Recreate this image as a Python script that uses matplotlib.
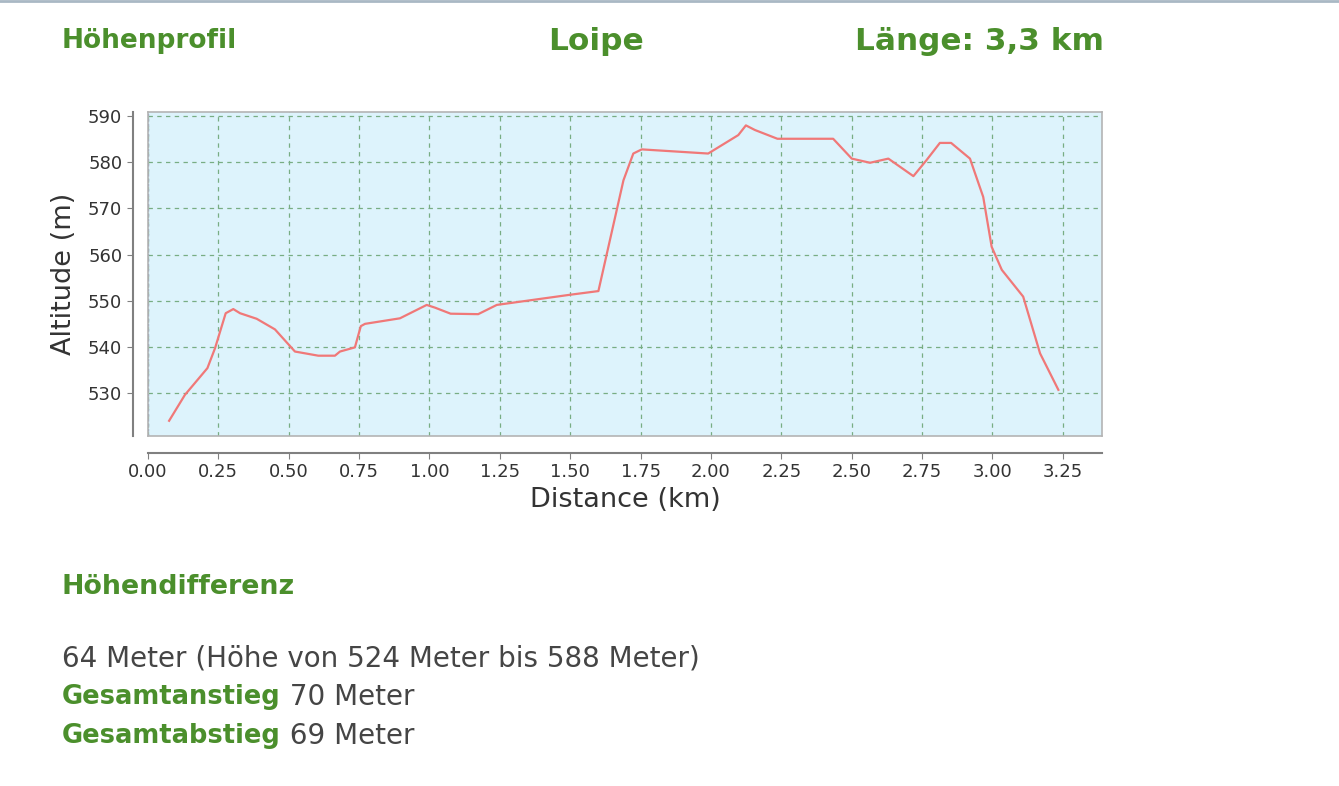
import numpy as np
import matplotlib.pyplot as plt
from matplotlib.lines import Line2D

# elevation profile
distance_km = [0.075, 0.131, 0.211, 0.238, 0.276, 0.303, 0.327, 0.386, 0.451, 0.522,
               0.605, 0.664, 0.682, 0.735, 0.756, 0.771, 0.895, 0.990, 1.020, 1.075,
               1.173, 1.239, 1.499, 1.600, 1.689, 1.724, 1.754, 1.990, 2.097, 2.124,
               2.156, 2.236, 2.434, 2.500, 2.565, 2.630, 2.719, 2.766, 2.813, 2.853,
               2.920, 2.967, 2.997, 3.033, 3.109, 3.169, 3.234]
altitude_m = [524.0, 529.6, 535.4, 539.7, 547.3, 548.2, 547.3, 546.1, 543.8, 539.0,
              538.1, 538.1, 539.0, 539.9, 544.5, 545.0, 546.2, 549.1, 548.5, 547.2,
              547.1, 549.1, 551.3, 552.1, 576.1, 581.9, 582.8, 581.9, 585.9, 588.0,
              587.0, 585.1, 585.1, 580.8, 579.9, 580.8, 577.0, 580.5, 584.2, 584.2,
              580.8, 572.5, 561.7, 556.7, 550.9, 538.6, 530.7]

x_ticks = [0.00, 0.25, 0.50, 0.75, 1.00, 1.25, 1.50, 1.75, 2.00, 2.25, 2.50, 2.75, 3.00, 3.25]
y_ticks = [530, 540, 550, 560, 570, 580, 590]

green = '#4b8f2c'
grey_text = '#454545'

fig = plt.figure(figsize=(13.39, 7.86), dpi=100)
fig.patch.set_facecolor('white')

# thin line across the top of the page
fig.add_artist(Line2D([0, 1], [0.999, 0.999], transform=fig.transFigure,
                      color='#a9b8c4', linewidth=2))

# headings
fig.text(62 / 1339, 1 - 41 / 786, 'Höhenprofil', color=green, fontsize=19,
         fontweight='bold', va='center', ha='left')
fig.text(596 / 1339, 1 - 42 / 786, 'Loipe', color=green, fontsize=22.5,
         fontweight='bold', va='center', ha='center')
fig.text(855 / 1339, 1 - 42 / 786, 'Länge: 3,3 km', color=green, fontsize=22.4,
         fontweight='bold', va='center', ha='left')

# chart
ax = fig.add_axes([148 / 1339, 1 - 436 / 786, (1102 - 148) / 1339, (436 - 112) / 786])
ax.set_facecolor('#ddf3fc')
ax.plot(distance_km, altitude_m, color='#f07878', linewidth=1.6)
ax.set_xlim(0, 3.389)
ax.set_ylim(520.7, 590.9)
ax.set_xticks(x_ticks)
ax.set_yticks(y_ticks)
ax.grid(True, color='#78ad84', linestyle=(0, (3.5, 3.5)), linewidth=0.9)
ax.axvline(0, color='#7a88b8', linestyle=(0, (2, 2)), linewidth=0.9)
ax.tick_params(left=False, bottom=False, labelleft=False, labelbottom=False)
for s in ax.spines.values():
    s.set_color('#b4b4b4')
    s.set_linewidth(1.2)

# offset axis lines like the original chart
ax2 = fig.add_axes(ax.get_position())
ax2.set_xlim(ax.get_xlim())
ax2.set_ylim(ax.get_ylim())
ax2.patch.set_visible(False)
ax2.spines['top'].set_visible(False)
ax2.spines['right'].set_visible(False)
ax2.spines['left'].set_position(('outward', 11))
ax2.spines['bottom'].set_position(('outward', 12))
for side in ['left', 'bottom']:
    ax2.spines[side].set_color('#808080')
    ax2.spines[side].set_linewidth(1.5)
ax2.set_xticks(x_ticks)
ax2.set_xticklabels([f'{t:.2f}' for t in x_ticks])
ax2.set_yticks(y_ticks)
ax2.tick_params(colors='#808080', labelcolor='#333333', labelsize=13, length=4)
ax2.set_xlabel('Distance (km)', fontsize=19.5, color='#333333', labelpad=4)
ax2.set_ylabel('Altitude (m)', fontsize=19.5, color='#333333', labelpad=8)

# summary text below the chart
fig.text(62 / 1339, 1 - 587 / 786, 'Höhendifferenz', color=green, fontsize=19.3,
         fontweight='bold', va='center', ha='left')
fig.text(62 / 1339, 1 - 659 / 786, '64 Meter (Höhe von 524 Meter bis 588 Meter)',
         color=grey_text, fontsize=20, va='center', ha='left')

t1 = fig.text(62 / 1339, 1 - 697 / 786, 'Gesamtanstieg', color=green, fontsize=18.5,
              fontweight='bold', va='center', ha='left')
t2 = fig.text(62 / 1339, 1 - 736 / 786, 'Gesamtabstieg', color=green, fontsize=18.5,
              fontweight='bold', va='center', ha='left')
fig.canvas.draw()
r = fig.canvas.get_renderer()
for t, rest in [(t1, ' 70 Meter'), (t2, ' 69 Meter')]:
    bb = t.get_window_extent(r)
    x1 = fig.transFigure.inverted().transform((bb.x1, bb.y0))[0]
    fig.text(x1, t.get_position()[1], rest, color=grey_text, fontsize=20,
             va='center', ha='left')

fig.savefig('out.png', dpi=100, facecolor='white')
